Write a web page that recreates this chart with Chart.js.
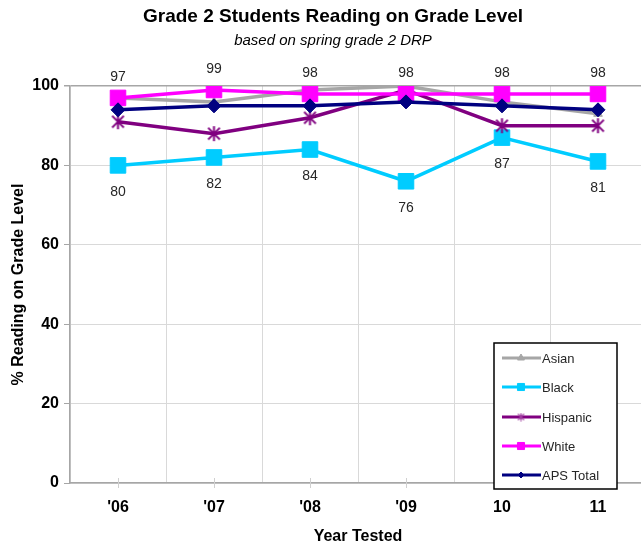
<!DOCTYPE html>
<html>
<head>
<meta charset="utf-8">
<script src="https://cdn.jsdelivr.net/npm/chart.js@4.4.1/dist/chart.umd.min.js"></script>
<style>
  html, body { margin: 0; padding: 0; background: #fff; overflow: hidden; }
  #wrap { width: 641px; height: 546px; overflow: hidden; position: relative; }
  #c { position: absolute; left: 0; top: 0; }
</style>
</head>
<body>
<div id="wrap"><canvas id="c" width="658" height="546"></canvas></div>
<script>
// Grade 2 reading proficiency by student group, spring DRP
const years = ["'06", "'07", "'08", "'09", "10", "11"];
const asian = [97, 96, 99, 100, 96, 93];
const black = [80, 82, 84, 76, 87, 81];
const hispanic = [91, 88, 92, 99, 90, 90];
const white = [97, 99, 98, 98, 98, 98];
const apsTotal = [94, 95, 95, 96, 95, 94];
const yTicks = [0, 20, 40, 60, 80, 100];

const FONT = "'Liberation Sans', Arial, sans-serif";

// six-armed asterisk marker (an X crossed by a vertical stroke)
function asterisk(size, color, lw) {
  const c = document.createElement('canvas');
  c.width = size; c.height = size;
  const g = c.getContext('2d');
  const m = size / 2, r = size / 2 - lw / 2;
  g.strokeStyle = color;
  g.lineWidth = lw;
  g.lineCap = 'butt';
  g.beginPath();
  g.moveTo(m, m - r); g.lineTo(m, m + r);
  const d = r * 0.78;
  g.moveTo(m - d, m - d); g.lineTo(m + d, m + d);
  g.moveTo(m + d, m - d); g.lineTo(m - d, m + d);
  g.stroke();
  return c;
}
const starBig = asterisk(17, '#800080', 2);
const starSmall = asterisk(9, '#A040A0', 1.2);

const titlePlugin = {
  id: 'titles',
  afterDraw(chart) {
    const ctx = chart.ctx;
    ctx.save();
    ctx.fillStyle = '#000';
    ctx.textAlign = 'center';
    ctx.textBaseline = 'middle';
    ctx.font = 'bold 19px ' + FONT;
    ctx.fillText('Grade 2 Students Reading on Grade Level', 333, 17);
    ctx.font = 'italic 15px ' + FONT;
    ctx.fillText('based on spring grade 2 DRP', 333, 41);
    ctx.restore();
  }
};

// short tick marks at each category centre, crossing the x axis
const centreTicks = {
  id: 'centreTicks',
  beforeDatasetsDraw(chart) {
    const ctx = chart.ctx;
    const xs = chart.scales.x;
    const yb = chart.chartArea.bottom;
    ctx.save();
    ctx.strokeStyle = '#D0D0D0';
    ctx.lineWidth = 1;
    ctx.beginPath();
    years.forEach((_, i) => {
      const x = Math.round(xs.getPixelForValue(i)) + 0.5;
      ctx.moveTo(x, yb - 5);
      ctx.lineTo(x, yb + 5);
    });
    ctx.stroke();
    ctx.restore();
  }
};

// value labels: White above its points, Black below
const valueLabels = {
  id: 'valueLabels',
  afterDatasetsDraw(chart) {
    const ctx = chart.ctx;
    ctx.save();
    ctx.font = '14px ' + FONT;
    ctx.fillStyle = '#262626';
    ctx.textAlign = 'center';
    ctx.textBaseline = 'middle';
    chart.data.datasets.forEach((ds, i) => {
      if (!ds.labelPos) return;
      const meta = chart.getDatasetMeta(i);
      meta.data.forEach((pt, j) => {
        const dy = ds.labelPos === 'above' ? -21 : 27;
        ctx.fillText(String(ds.data[j]), pt.x, pt.y + dy);
      });
    });
    ctx.restore();
  }
};

// boxed legend inside the plot area, lower right
const boxLegend = {
  id: 'boxLegend',
  afterDraw(chart) {
    const ctx = chart.ctx;
    const x0 = 494, y0 = 343, w = 123, h = 146;
    ctx.save();
    ctx.fillStyle = '#fff';
    ctx.fillRect(x0, y0, w, h);
    ctx.strokeStyle = '#000';
    ctx.lineWidth = 1.5;
    ctx.strokeRect(x0, y0, w, h);
    const rows = [358, 387, 417, 446, 475];
    chart.data.datasets.forEach((ds, i) => {
      const y = rows[i];
      ctx.strokeStyle = ds.borderColor;
      ctx.lineWidth = 3;
      ctx.beginPath();
      ctx.moveTo(502, y);
      ctx.lineTo(541, y);
      ctx.stroke();
      ctx.fillStyle = ds.pointBackgroundColor;
      ctx.strokeStyle = ds.pointBorderColor;
      ctx.lineWidth = 1;
      Chart.helpers.drawPoint(ctx, {
        pointStyle: ds.legendStyle || ds.pointStyle,
        radius: ds.legendRadius,
        borderWidth: 1
      }, 521, y);
      ctx.fillStyle = '#262626';
      ctx.font = '13px ' + FONT;
      ctx.textAlign = 'left';
      ctx.textBaseline = 'middle';
      ctx.fillText(ds.label, 542, y + 1);
    });
    ctx.restore();
  }
};

function series(label, data, color, style, radius, legendRadius, order, extra) {
  return Object.assign({
    label: label,
    data: data,
    borderColor: color,
    backgroundColor: color,
    pointBackgroundColor: color,
    pointBorderColor: color,
    pointStyle: style,
    pointRadius: radius,
    pointHoverRadius: radius,
    pointBorderWidth: 1,
    legendRadius: legendRadius,
    borderWidth: 3.5,
    tension: 0,
    order: order
  }, extra || {});
}

new Chart(document.getElementById('c'), {
  type: 'line',
  data: {
    labels: years,
    datasets: [
      series('Asian', asian, '#A6A6A6', 'triangle', 5, 4, 4),
      series('Black', black, '#00CCFF', 'rect', 11, 5, 3, { labelPos: 'below' }),
      series('Hispanic', hispanic, '#800080', starBig, 8, 5, 2, { legendStyle: starSmall }),
      series('White', white, '#FF00FF', 'rect', 11, 5, 1, { labelPos: 'above' }),
      series('APS Total', apsTotal, '#000080', 'rectRot', 7, 3, 0)
    ]
  },
  options: {
    responsive: false,
    animation: false,
    devicePixelRatio: 1,
    layout: { padding: { top: 86, right: 4, left: 0, bottom: 0 } },
    plugins: {
      legend: { display: false },
      title: { display: false },
      tooltip: { enabled: false }
    },
    scales: {
      x: {
        offset: true,
        grid: {
          offset: true,
          color: '#D9D9D9',
          lineWidth: 1,
          drawTicks: false
        },
        border: { color: '#A6A6A6', width: 1.5 },
        ticks: {
          color: '#000',
          padding: 15,
          font: { family: FONT, size: 16, weight: 'bold' }
        },
        title: {
          display: true,
          text: 'Year Tested',
          color: '#000',
          padding: { top: 5, bottom: 0 },
          font: { family: FONT, size: 16, weight: 'bold' }
        },
        afterFit(scale) { scale.height = 63; }
      },
      y: {
        min: 0,
        max: 100,
        afterBuildTicks(scale) { scale.ticks = yTicks.map(v => ({ value: v })); },
        grid: {
          color: ctx => ctx.tick && ctx.tick.value === 100 ? '#A6A6A6' : '#D9D9D9',
          lineWidth: ctx => ctx.tick && ctx.tick.value === 100 ? 1.5 : 1,
          tickLength: 6,
          tickColor: '#A6A6A6'
        },
        border: { color: '#A6A6A6', width: 1.5 },
        ticks: {
          color: '#000',
          padding: 5,
          font: { family: FONT, size: 16, weight: 'bold' }
        },
        title: {
          display: true,
          text: '% Reading on Grade Level',
          color: '#000',
          padding: { top: 9, bottom: 0 },
          font: { family: FONT, size: 16, weight: 'bold' }
        },
        afterFit(scale) { scale.width = 70; }
      }
    }
  },
  plugins: [titlePlugin, centreTicks, valueLabels, boxLegend]
});
</script>
</body>
</html>
